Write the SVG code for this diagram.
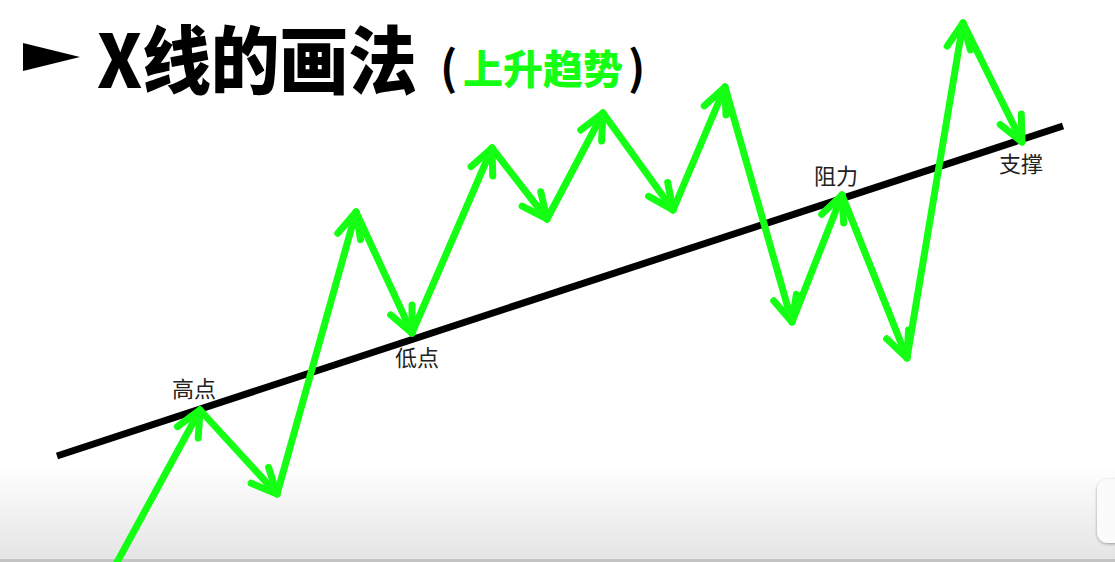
<svg xmlns="http://www.w3.org/2000/svg" width="1115" height="562" viewBox="0 0 1115 562">
  <style>
    .title { font-family: "Noto Sans CJK SC", "Liberation Sans", sans-serif; font-weight: 900; }
    .label { font-family: "Noto Sans CJK SC", "Liberation Sans", sans-serif; font-size: 22px; fill: #222; }
    .up { stroke: #14ff14; stroke-width: 7; stroke-linecap: round; fill: none; marker-end: url(#head); }
  </style>
  <defs>
    <linearGradient id="bottomFade" x1="0" y1="0" x2="0" y2="1">
      <stop offset="0" stop-color="#ffffff"/>
      <stop offset="1" stop-color="#e4e4e4"/>
    </linearGradient>
    <filter id="shadow" x="-30%" y="-30%" width="160%" height="160%">
      <feGaussianBlur in="SourceAlpha" stdDeviation="1.5"/>
      <feOffset dx="0" dy="1" result="b"/>
      <feComponentTransfer><feFuncA type="linear" slope="0.35"/></feComponentTransfer>
      <feMerge><feMergeNode/><feMergeNode in="SourceGraphic"/></feMerge>
    </filter>
    <marker id="head" markerUnits="userSpaceOnUse" viewBox="-40 -30 60 60" markerWidth="60" markerHeight="60" refX="0" refY="0" orient="auto" overflow="visible">
      <path d="M-25.4,-11.8 L0,0 L-25.4,11.8" fill="none" stroke="#14ff14" stroke-width="7" stroke-linecap="round" stroke-linejoin="round"/>
    </marker>
  </defs>

  <rect x="0" y="0" width="1115" height="562" fill="#ffffff"/>
  <rect x="0" y="465" width="1115" height="95" fill="url(#bottomFade)"/>
  <rect x="0" y="559" width="1115" height="3" fill="#c4c4c4"/>
  <rect x="1097" y="479" width="40" height="64" rx="11" fill="#fbfbfb" filter="url(#shadow)"/>

  <g id="title">
    <polygon points="23,43 80,57 23,71" fill="#000"/>
    <text class="title" x="97" y="88" font-size="74" textLength="320" lengthAdjust="spacingAndGlyphs" fill="#000">X线的画法</text>
    <text class="title" y="85" font-size="46" fill="#000"><tspan x="440" font-weight="700">(</tspan><tspan x="463" y="84" font-size="40" font-weight="900" fill="#14ff14">上升趋势</tspan><tspan x="628" y="85" font-weight="700">)</tspan></text>
  </g>

  <g id="trendline">
    <line x1="57" y1="456" x2="1063" y2="126" stroke="#000" stroke-width="7"/>
  </g>

  <g id="connectors">
    <line class="up" x1="115" y1="566" x2="200" y2="410"/>
    <line class="up" x1="200" y1="410" x2="277" y2="494"/>
    <line class="up" x1="277" y1="494" x2="356" y2="212"/>
    <line class="up" x1="356" y1="212" x2="412" y2="333"/>
    <line class="up" x1="412" y1="333" x2="492" y2="148"/>
    <line class="up" x1="492" y1="148" x2="547" y2="219"/>
    <line class="up" x1="547" y1="219" x2="603" y2="113"/>
    <line class="up" x1="603" y1="113" x2="673" y2="210"/>
    <line class="up" x1="673" y1="210" x2="725" y2="87"/>
    <line class="up" x1="725" y1="87" x2="792" y2="322"/>
    <line class="up" x1="792" y1="322" x2="842" y2="195"/>
    <line class="up" x1="842" y1="195" x2="907" y2="358"/>
    <line class="up" x1="907" y1="358" x2="963" y2="23"/>
    <line class="up" x1="963" y1="23" x2="1022" y2="142"/>
  </g>

  <g id="label-high"><text class="label" x="172" y="397">高点</text></g>
  <g id="label-low"><text class="label" x="395" y="366">低点</text></g>
  <g id="label-resist"><text class="label" x="814" y="184">阻力</text></g>
  <g id="label-support"><text class="label" x="999" y="172">支撑</text></g>
</svg>
